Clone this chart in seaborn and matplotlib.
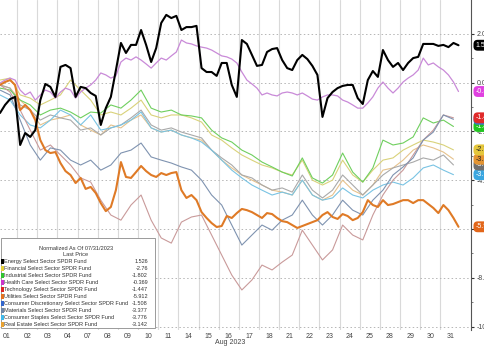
import numpy as np
import pandas as pd
import matplotlib
matplotlib.use("Agg")
import matplotlib.pyplot as plt
import seaborn as sns

# ---------------------------------------------------------------- data
day_labels = ["01", "02", "03", "04", "07", "08", "09", "10", "11", "14", "15", "16",
              "17", "18", "21", "22", "23", "24", "25", "28", "29", "30", "31"]

# intraday sampling (trading-day units): quarter-day and half-day grids
t_fine = 0.15 + 0.25 * np.arange(92)
t_coarse = 0.15 + 0.5 * np.arange(46)

energy = [-1.25, -0.92, -0.68, -0.59, -2.56, -2.07, -2.23, -1.95, -0.72, -0.06,
          -0.18, -0.59, 0.64, 0.72, 0.59, -0.59, -0.18, -0.23, -0.43, -0.55,
          -1.74, -1.05, -0.59, 0.5, 1.62, 1.21, 1.54, 1.54, 2.15, 1.54,
          0.84, 1.41, 2.44, 2.77, 2.64, 2.73, 2.15, 2.27, 2.27, 2.32,
          0.59, 0.43, 0.43, 0.27, 0.8, 0.8, -0.1, -0.59, 1.74, 1.58,
          1.13, 0.68, 0.72, 1.25, 1.37, 1.41, 0.92, 0.59, 0.51, 0.92,
          1.13, 0.96, 0.68, 0.31, -1.41, -0.64, -0.39, -0.23, -0.14, -0.1,
          -0.1, -0.64, -0.88, 0.1, 0.47, 0.23, 1.33, 0.92, 0.64, 0.8,
          0.51, 0.8, 1.0, 1.05, 1.58, 1.58, 1.58, 1.5, 1.54, 1.45,
          1.62, 1.526]

health_care = [-0.02, 0.1, 0.18, 0.1, -0.31, -0.51, -0.39, -0.72, -0.51, -0.31,
               -0.39, -0.64, -0.39, -0.23, -0.31, -0.64, -0.39, -0.23, -0.1, 0.1,
               0.39, 0.31, 0.18, 0.27, 0.84, 1.0, 0.92, 1.05, 0.92, 0.76,
               0.59, 0.8, 1.0, 0.92, 1.09, 1.25, 1.74, 1.62, 1.58, 1.5,
               1.45, 1.41, 1.33, 1.21, 1.09, 1.05, 0.96, 0.8, 0.43, 0.1,
               -0.06, -0.23, -0.51, -0.43, -0.51, -0.55, -0.43, -0.39, -0.43, -0.51,
               -0.43, -0.55, -0.68, -0.72, -0.59, -0.51, -0.51, -0.55, -0.72, -0.8,
               -0.92, -1.05, -1.05, -0.84, -0.59, -0.23, 0.02, -0.23, -0.43, -0.23,
               0.02, 0.18, 0.31, 0.51, 1.0, 0.72, 0.8, 0.64, 0.51, 0.31,
               0.02, -0.369]

utilities = [-0.1, 0.02, 0.1, -0.1, -1.13, -0.92, -1.13, -1.54, -2.36, -2.77,
             -2.89, -2.85, -3.3, -3.63, -3.79, -4.12, -3.91, -4.36, -4.28, -4.53,
             -4.94, -5.27, -5.1, -4.41, -3.26, -3.87, -3.91, -3.67, -3.42, -3.63,
             -3.79, -3.87, -3.71, -3.79, -3.71, -3.67, -4.41, -4.73, -4.61, -4.82,
             -5.31, -5.55, -5.76, -5.92, -5.88, -5.47, -5.55, -5.35, -5.18, -5.23,
             -5.31, -5.43, -5.55, -5.35, -5.39, -5.55, -5.68, -5.72, -5.84, -5.96,
             -5.88, -5.8, -5.72, -5.64, -5.43, -5.31, -5.51, -5.59, -5.39, -5.47,
             -5.64, -5.55, -5.31, -4.82, -5.02, -5.1, -4.82, -5.02, -4.98, -4.9,
             -4.82, -4.82, -4.94, -4.82, -4.82, -4.98, -5.14, -5.35, -5.02, -5.23,
             -5.55, -5.912]

industrial = [-0.23, -0.31, -0.72, -0.92, -1.33, -1.13, -1.05, -1.21, -1.45, -1.21,
              -1.25, -0.92, -1.05, -0.72, -0.31, -1.05, -1.21, -1.13, -1.33, -1.37,
              -1.45, -1.95, -2.27, -2.44, -2.77, -2.97, -3.26, -3.46, -3.67, -3.83,
              -3.09, -3.91, -4.12, -3.79, -2.89, -3.67, -4.08, -3.5, -2.36, -2.56,
              -2.48, -2.23, -1.45, -1.66, -1.54, -1.802]

financial = [0.1, 0.18, -0.51, -0.64, -0.92, -0.72, -0.51, 0.1, -0.31, -0.72,
             -1.33, -1.21, -1.33, -1.05, -0.72, -1.33, -1.45, -1.33, -1.33, -1.45,
             -1.62, -2.15, -2.36, -2.68, -2.97, -3.18, -3.38, -3.5, -3.67, -3.79,
             -3.18, -4.0, -4.2, -4.0, -3.18, -3.79, -4.08, -3.59, -3.18, -3.09,
             -2.77, -2.56, -2.36, -2.44, -2.56, -2.76]

real_estate = [-0.1, -0.23, -0.72, -1.13, -1.74, -1.54, -1.45, -1.33, -1.74, -1.95,
               -2.15, -1.74, -1.86, -1.54, -1.33, -1.86, -2.03, -1.95, -2.15, -2.27,
               -2.36, -2.77, -3.18, -3.5, -3.79, -4.0, -4.2, -4.41, -4.49, -4.61,
               -4.0, -4.61, -4.82, -4.61, -4.0, -4.41, -4.61, -4.2, -3.59, -3.5,
               -3.18, -2.77, -2.56, -2.68, -2.85, -3.142]

technology = [-0.1, -0.39, -1.13, -1.95, -2.77, -2.56, -2.97, -3.38, -3.91, -4.08,
              -4.82, -5.43, -5.64, -5.02, -4.61, -5.64, -6.37, -6.58, -5.72, -5.51,
              -5.43, -6.25, -7.07, -7.89, -8.5, -8.09, -7.48, -7.68, -7.36, -7.07,
              -6.05, -6.66, -7.27, -6.86, -5.84, -6.25, -6.45, -5.43, -4.61, -4.0,
              -3.59, -2.97, -2.36, -1.95, -1.33, -1.447]

cons_discretionary = [-0.31, -0.51, -1.54, -2.56, -3.18, -2.68, -2.77, -3.18, -3.38, -3.18,
                      -3.59, -3.38, -2.89, -2.77, -2.48, -3.05, -3.18, -3.3, -3.46, -3.59,
                      -4.0, -4.61, -5.02, -5.84, -6.66, -6.25, -5.84, -6.05, -5.64, -5.43,
                      -4.82, -5.43, -5.84, -5.43, -4.82, -5.23, -5.43, -4.82, -4.41, -3.79,
                      -3.46, -3.09, -2.36, -2.03, -1.33, -1.508]

materials = [-0.1, -0.23, -0.92, -1.13, -1.54, -1.33, -1.45, -1.54, -1.95, -1.86,
             -2.15, -1.86, -1.74, -1.45, -1.13, -1.74, -1.95, -1.86, -2.03, -2.15,
             -2.27, -2.77, -3.09, -3.38, -3.79, -3.91, -4.2, -4.41, -4.32, -4.49,
             -3.79, -4.41, -4.73, -4.41, -3.79, -4.2, -4.61, -4.2, -3.79, -3.5,
             -3.38, -3.26, -3.09, -3.18, -2.97, -3.377]

cons_staples = [-0.51, -0.72, -1.33, -1.74, -1.86, -1.54, -1.13, -1.33, -1.74, -1.33,
                -1.95, -1.86, -1.74, -1.54, -1.21, -1.86, -2.03, -1.95, -2.15, -2.27,
                -2.44, -2.77, -3.18, -3.59, -3.91, -4.2, -4.41, -4.61, -4.49, -4.61,
                -4.0, -4.61, -4.82, -4.73, -4.32, -4.61, -4.73, -4.41, -4.2, -4.08,
                -4.2, -3.91, -3.5, -3.38, -3.59, -3.776]

legend_names = ["Energy Select Sector SPDR Fund", "Financial Select Sector SPDR Fund",
                "Industrial Select Sector SPDR Fund", "Health Care Select Sector SPDR Fund",
                "Technology Select Sector SPDR Fund", "Utilities Select Sector SPDR Fund",
                "Consumer Discretionary Select Sector SPDR Fund", "Materials Select Sector SPDR Fund",
                "Consumer Staples Select Sector SPDR Fund", "Real Estate Select Sector SPDR Fund"]
last_prices = ["1.526", "-2.76", "-1.802", "-0.369", "-1.447", "-5.912",
               "-1.508", "-3.377", "-3.776", "-3.142"]

y_ticks = [2, 0, -2, -4, -6, -8, -10]
# the -6 label sits under the Utilities badge, so it is left blank
y_tick_labels = ["2.00", "0.00", "-2.00", "-4.00", "", "-8.00", "-10.00"]

# ---------------------------------------------------------------- styling
swatch_colors = ["#000000", "#e3cf3a", "#2fc42f", "#cc33cc", "#dd2424", "#e37222",
                 "#3366cc", "#6f86a6", "#3fb8ea", "#e8a232"]
line_colors = ["#000000", "#d9d27a", "#6fcf5e", "#c98ad8", "#c99a9a", "#df7a26",
               "#7f93b0", "#a9a9a9", "#79c3e3", "#e6c28c"]
badge_colors = ["#000000", "#e4c63c", "#1fc41f", "#e040e0", "#e02a2a", "#e2661a",
                "#3a78c8", "#707070", "#3aa6e0", "#e39432"]

sns.set_style("white")
plt.rcParams["font.family"] = ["Liberation Sans", "DejaVu Sans"]

fig = plt.figure(figsize=(4.85, 3.46), dpi=100)
ax = fig.add_axes([0.0, 16 / 346, 471 / 485, 330 / 346])

series = [
    (financial, t_coarse, 1, 0.8),
    (real_estate, t_coarse, 9, 0.8),
    (materials, t_coarse, 7, 0.8),
    (cons_staples, t_coarse, 8, 0.8),
    (industrial, t_coarse, 2, 0.8),
    (technology, t_coarse, 4, 0.8),
    (cons_discretionary, t_coarse, 6, 0.8),
    (health_care, t_fine, 3, 0.9),
    (utilities, t_fine, 5, 1.5),
    (energy, t_fine, 0, 1.5),
]
for values, t, idx, lw in series:
    df = pd.DataFrame({"t": t, "v": values})
    sns.lineplot(data=df, x="t", y="v", ax=ax, color=line_colors[idx],
                 linewidth=lw, zorder=3 + lw)

ax.set_xlim(0.15, 23.52)
ax.set_ylim(-10.14, 3.38)

# day separators and dotted value grid
for b in range(1, 23):
    ax.axvline(b, color="#d9d9d9", lw=0.8, zorder=1)
for yv in y_ticks:
    ax.axhline(yv, color="#b5b5b5", lw=0.7, ls=(0, (1.5, 2.5)), zorder=1)

ax.set_xticks(np.arange(len(day_labels)) + 0.5)
ax.set_xticklabels(day_labels)
ax.tick_params(axis="x", length=0, pad=2, labelsize=5, labelcolor="#444444")

ax.yaxis.tick_right()
ax.set_yticks(y_ticks)
ax.set_yticklabels(y_tick_labels)
ax.set_yticks([1, -1, -3, -5, -7, -9], minor=True)
ax.tick_params(axis="y", which="major", length=2.5, width=0.8, color="#333333",
               pad=1.5, labelsize=5, labelcolor="#444444")
ax.tick_params(axis="y", which="minor", length=1.5, width=0.6, color="#666666")
ax.set_xlabel("")
ax.set_ylabel("")
for s in ["top", "left", "bottom"]:
    ax.spines[s].set_visible(False)
ax.spines["right"].set_color("#555555")
ax.spines["right"].set_linewidth(0.8)

fig.text(230 / 485, 1 - 343 / 346, "Aug 2023", ha="center", va="center",
         fontsize=5, color="#444444")

# last-value badges on the right edge
order = [5, 8, 7, 9, 1, 2, 6, 4, 3, 0]
for i in order:
    val = float(last_prices[i])
    txt_color = "#222222" if i in (1, 9) else "white"
    ax.annotate(last_prices[i], xy=(1.0, val), xycoords=("axes fraction", "data"),
                xytext=(3.2, 0), textcoords="offset points", ha="left", va="center",
                fontsize=5, color=txt_color, annotation_clip=False, zorder=20,
                bbox=dict(boxstyle="round,pad=0.28,rounding_size=0.6",
                          fc=badge_colors[i], ec="none"))

# legend panel
W, H = 471.0, 330.0
LF = 4.0
box = plt.Rectangle((1 / W, 2 / H), 154 / W, 90 / H, transform=ax.transAxes,
                    facecolor="white", edgecolor="#9a9a9a", lw=0.7, zorder=30)
ax.add_patch(box)
ax.text(76 / W, (H - 248) / H, "Normalized As Of 07/31/2023", transform=ax.transAxes,
        ha="center", va="center", fontsize=LF + 0.1, color="#333333", zorder=31)
ax.text(76 / W, (H - 254.5) / H, "Last Price", transform=ax.transAxes,
        ha="center", va="center", fontsize=LF + 0.1, color="#333333", zorder=31)
for i, (name, lp) in enumerate(zip(legend_names, last_prices)):
    yy = (H - (261.5 + 7 * i)) / H
    ax.add_patch(plt.Rectangle((1.2 / W, yy - 2.2 / H), 2.4 / W, 4.4 / H,
                               transform=ax.transAxes, facecolor=swatch_colors[i],
                               edgecolor="none", zorder=31))
    ax.text(4.5 / W, yy, name, transform=ax.transAxes, ha="left", va="center",
            fontsize=LF, color="#333333", zorder=31)
    ax.text(148 / W, yy, lp, transform=ax.transAxes, ha="right", va="center",
            fontsize=LF, color="#333333", zorder=31)

fig.savefig("out.png", dpi=100)
